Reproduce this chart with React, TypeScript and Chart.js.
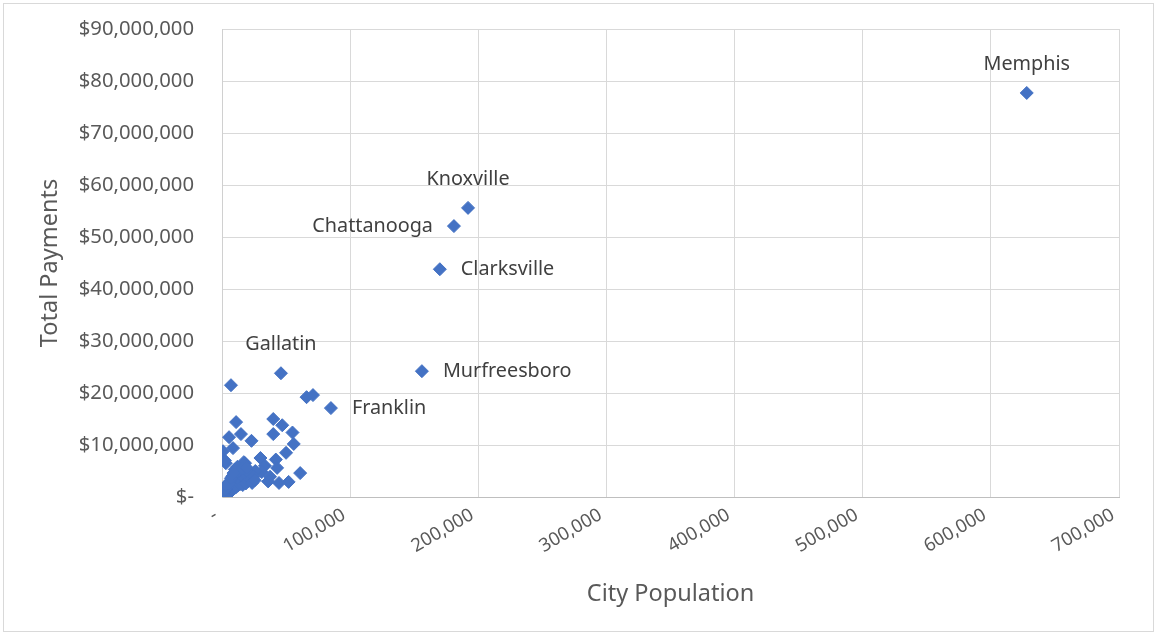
import React, { useEffect, useRef } from 'react';
import { Chart, registerables } from 'chart.js';

Chart.register(...registerables);

// Labelled cities
const labelledCities = ['Memphis', 'Knoxville', 'Chattanooga', 'Clarksville', 'Murfreesboro', 'Franklin', 'Gallatin'];
const labelledPopulation = [628000, 192000, 181000, 170000, 156000, 85000, 46000];
const labelledPayments = [77700000, 55600000, 52100000, 43800000, 24200000, 17100000, 23800000];

// Other (unlabelled) cities
const otherPopulation = [
  7000, 66000, 71000, 11000, 40000, 47000, 40000, 55000, 56000, 5500,
  14800, 23000, 8600, 800, 50000, 30000, 42000, 18000, 3000, 61000,
  52000, 44500, 33500, 37500, 31000, 26000, 43000, 17000, 2300, 36000,
  500, 700, 900, 1100, 1300, 1500, 1700, 1900, 2100, 2300,
  2500, 2700, 2900, 3100, 3300, 3500, 3700, 3900, 4100, 4300,
  4500, 4800, 5000, 5200, 5500, 5800, 6000, 6300, 6600, 6900,
  7200, 7500, 7800, 8100, 8400, 8700, 9000, 9400, 9800, 10200,
  10600, 11000, 11500, 12000, 12500, 13000, 13600, 14200, 14800, 15500,
  16200, 17000, 17800, 18600, 19500, 20500, 21500, 22500, 23500, 24500,
  25500, 1000, 2000, 3000, 4000, 6000, 8000, 10000, 12000, 600,
  1400, 2600, 3400, 5400, 7000, 9000, 16000, 19000,
];
const otherPayments = [
  21500000, 19200000, 19600000, 14400000, 15000000, 13800000, 12100000, 12400000, 10200000, 11500000,
  12100000, 10800000, 9400000, 8800000, 8500000, 7500000, 7200000, 6500000, 6500000, 4600000,
  2900000, 2700000, 6000000, 3900000, 4800000, 5000000, 5600000, 6700000, 7000000, 3000000,
  120000, 60000, 300000, 180000, 450000, 90000, 350000, 600000, 240000, 800000,
  420000, 150000, 1000000, 560000, 300000, 1250000, 700000, 450000, 1500000, 900000,
  600000, 1800000, 1100000, 750000, 2100000, 1300000, 900000, 2500000, 1600000, 1100000,
  2900000, 1900000, 1300000, 3300000, 2200000, 1500000, 3700000, 2500000, 1700000, 4100000,
  2800000, 1900000, 4500000, 3100000, 2200000, 5000000, 3400000, 2500000, 4200000, 3000000,
  2300000, 4800000, 3500000, 2600000, 4000000, 3100000, 4500000, 3300000, 2700000, 3900000,
  3200000, 700000, 1100000, 1600000, 2000000, 3000000, 4000000, 5300000, 5800000, 400000,
  950000, 1400000, 2300000, 2600000, 3600000, 4600000, 5500000, 5700000,
];

const xMin = 0;
const xMax = 700000;
const xStep = 100000;
const yMin = 0;
const yMax = 90000000;
const yStep = 10000000;

const xTitle = 'City Population';
const yTitle = 'Total Payments';

const labelPlacement: Record<string, 'above' | 'left' | 'right'> = {
  Memphis: 'above',
  Knoxville: 'above',
  Gallatin: 'above',
  Chattanooga: 'left',
  Clarksville: 'right',
  Murfreesboro: 'right',
  Franklin: 'right',
};

const FONT = '"Noto Sans", "Open Sans", sans-serif';
const TEXT = '#595959';
const LABEL_TEXT = '#404040';
const POINT = '#4472C4';

const fmt = (v: number) => Math.round(v).toLocaleString('en-US');

const framePlugin = {
  id: 'frame',
  beforeDraw(chart: any) {
    const { ctx, width, height } = chart;
    ctx.save();
    ctx.fillStyle = '#ffffff';
    ctx.fillRect(0, 0, width, height);
    ctx.strokeStyle = '#d9d9d9';
    ctx.lineWidth = 1;
    ctx.strokeRect(3.5, 3.5, width - 7, height - 7);
    ctx.restore();
  },
};

const cityLabelPlugin = {
  id: 'cityLabels',
  afterDatasetsDraw(chart: any) {
    const { ctx } = chart;
    const xs = chart.scales.x;
    const ys = chart.scales.y;
    ctx.save();
    ctx.font = `19.8px ${FONT}`;
    ctx.fillStyle = LABEL_TEXT;
    ctx.textBaseline = 'middle';
    labelledCities.forEach((name, i) => {
      const px = xs.getPixelForValue(labelledPopulation[i]);
      const py = ys.getPixelForValue(labelledPayments[i]);
      const p = labelPlacement[name];
      if (p === 'above') {
        ctx.textAlign = 'center';
        ctx.fillText(name, px, py - 29);
      } else if (p === 'left') {
        ctx.textAlign = 'right';
        ctx.fillText(name, px - 21, py);
      } else {
        ctx.textAlign = 'left';
        ctx.fillText(name, px + 21, py);
      }
    });
    ctx.restore();
  },
};

export default function App() {
  const canvasRef = useRef<HTMLCanvasElement | null>(null);

  useEffect(() => {
    document.body.style.margin = '0';
    const canvas = canvasRef.current;
    if (!canvas) return;

    const points = [
      ...otherPopulation.map((x, i) => ({ x, y: otherPayments[i] })),
      ...labelledPopulation.map((x, i) => ({ x, y: labelledPayments[i] })),
    ];

    const chart = new Chart(canvas, {
      type: 'scatter',
      data: {
        datasets: [
          {
            label: 'Cities',
            data: points,
            pointStyle: 'rectRot',
            pointRadius: 6.5,
            pointHoverRadius: 6.5,
            pointBorderWidth: 1,
            backgroundColor: POINT,
            borderColor: POINT,
          },
        ],
      },
      options: {
        responsive: false,
        animation: false,
        events: [],
        layout: { padding: { left: 0, right: 38, top: 29, bottom: 0 } },
        plugins: {
          legend: { display: false },
          tooltip: { enabled: false },
        },
        scales: {
          x: {
            type: 'linear',
            min: xMin,
            max: xMax,
            ticks: {
              stepSize: xStep,
              minRotation: 30,
              maxRotation: 30,
              padding: 7,
              labelOffset: -6,
              color: TEXT,
              font: { family: FONT, size: 18.5 },
              callback: (v: any) => (Number(v) === 0 ? '-' : fmt(Number(v))),
            },
            grid: { color: '#d9d9d9', lineWidth: 1, drawTicks: false },
            border: { display: true, color: '#bfbfbf', width: 1 },
            title: {
              display: true,
              text: xTitle,
              color: TEXT,
              font: { family: FONT, size: 23.5 },
              padding: { top: 0, bottom: 27 },
            },
            afterFit: (scale: any) => {
              scale.height = 138;
              scale.paddingLeft = 0;
              scale.paddingRight = 0;
            },
          },
          y: {
            type: 'linear',
            min: yMin,
            max: yMax,
            ticks: {
              stepSize: yStep,
              padding: 28,
              color: TEXT,
              font: { family: FONT, size: 20.3 },
              callback: (v: any) => (Number(v) === 0 ? '$-' : '$' + fmt(Number(v))),
            },
            grid: { color: '#d9d9d9', lineWidth: 1, drawTicks: false },
            border: { display: true, color: '#d0d0d0', width: 1 },
            title: {
              display: true,
              text: yTitle,
              color: TEXT,
              font: { family: FONT, size: 23.5 },
              padding: { top: 36, bottom: 0 },
            },
            afterFit: (scale: any) => {
              scale.width = 222;
              scale.paddingTop = 12;
              scale.paddingBottom = 12;
            },
          },
        },
      },
      plugins: [framePlugin, cityLabelPlugin],
    });

    return () => chart.destroy();
  }, []);

  return (
    <div style={{ width: 1157, height: 635 }}>
      <canvas ref={canvasRef} width={1157} height={635} style={{ display: 'block' }} />
    </div>
  );
}
